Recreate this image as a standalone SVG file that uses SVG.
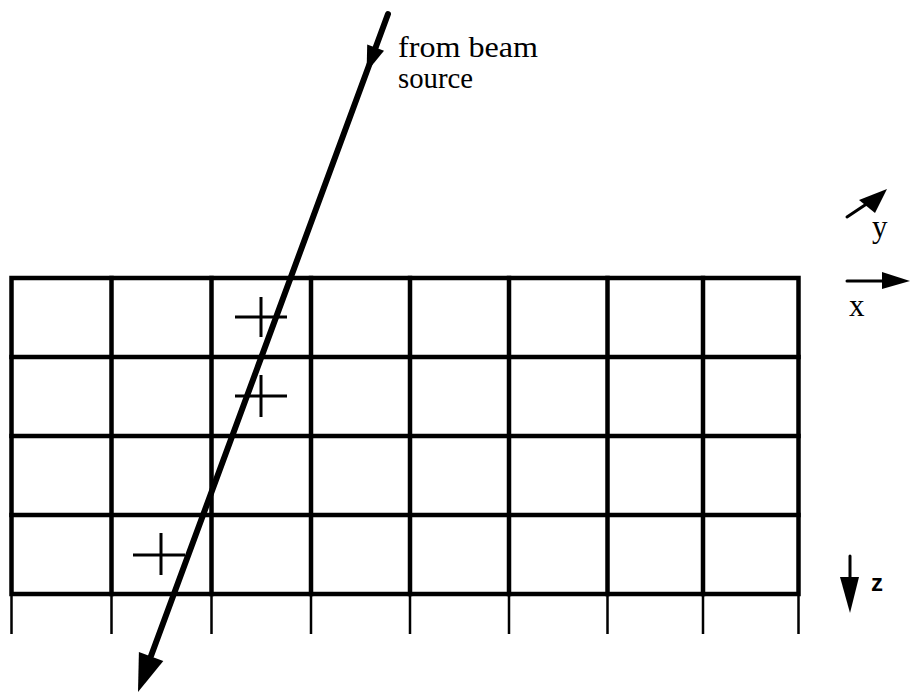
<svg xmlns="http://www.w3.org/2000/svg" width="910" height="693" viewBox="0 0 910 693">
<style>
.grid{stroke:#000;stroke-width:4.5;fill:none;stroke-linecap:square}
.tick{stroke:#000;stroke-width:2.5;fill:none}
.cross{stroke:#000;stroke-width:3;fill:none}
.beam{stroke:#000;stroke-width:6;fill:none;stroke-linecap:round}
.axis{stroke:#000;stroke-width:3;fill:none;stroke-linecap:round}
.head{fill:#000;stroke:none}
.serif{font-family:"Liberation Serif","Times New Roman",serif;fill:#000}
.sans{font-family:"Liberation Sans",Arial,sans-serif;fill:#000}
</style>
<rect width="910" height="693" fill="#fff"/>
<g id="grid">
<rect class="grid" x="11.5" y="278" width="787" height="316"/>
<path class="grid" d="M11.5 357H798.5M11.5 436H798.5M11.5 515H798.5"/>
<path class="grid" d="M111.5 278V594M211.5 278V594M311 278V594M410 278V594M509 278V594M607.5 278V594M703 278V594"/>
<path class="tick" d="M11.5 594V634M111.5 594V634M211.5 594V634M311 594V634M410 594V634M509 594V634M607.5 594V634M703 594V634M798.5 594V634"/>
</g>
<g id="crosses">
<path class="cross" d="M235 317H287M261 297V337"/>
<path class="cross" d="M235 396H287M261 375V417"/>
<path class="cross" d="M133 555H185M161 533V575"/>
</g>
<g id="connectors">
<g id="beam">
<path class="beam" d="M388 14L151 656"/>
<polygon class="head" points="384,50.7 366.6,72 367.2,44.5"/>
<polygon class="head" points="163.3,660.9 138,692 138.9,651.9"/>
</g>
<g id="axis-x">
<path class="axis" d="M847 281H885"/>
<polygon class="head" points="882,272 910,281 882,289"/>
</g>
<g id="axis-y">
<path class="axis" d="M847 217L868 203"/>
<polygon class="head" points="859,200 887,189 875,213"/>
</g>
<g id="axis-z">
<path class="axis" d="M850 556V580"/>
<polygon class="head" points="840,577 859,577 850,613"/>
</g>
</g>
<g id="labels">
<text class="serif" x="398" y="57" font-size="30" textLength="140" lengthAdjust="spacingAndGlyphs">from beam</text>
<text class="serif" x="398" y="88" font-size="30" textLength="75" lengthAdjust="spacingAndGlyphs">source</text>
<text class="serif" x="872" y="237" font-size="31">y</text>
<text class="serif" x="849" y="316" font-size="31">x</text>
<text class="sans" x="871" y="591" font-size="24" font-weight="bold">z</text>
</g>
</svg>
